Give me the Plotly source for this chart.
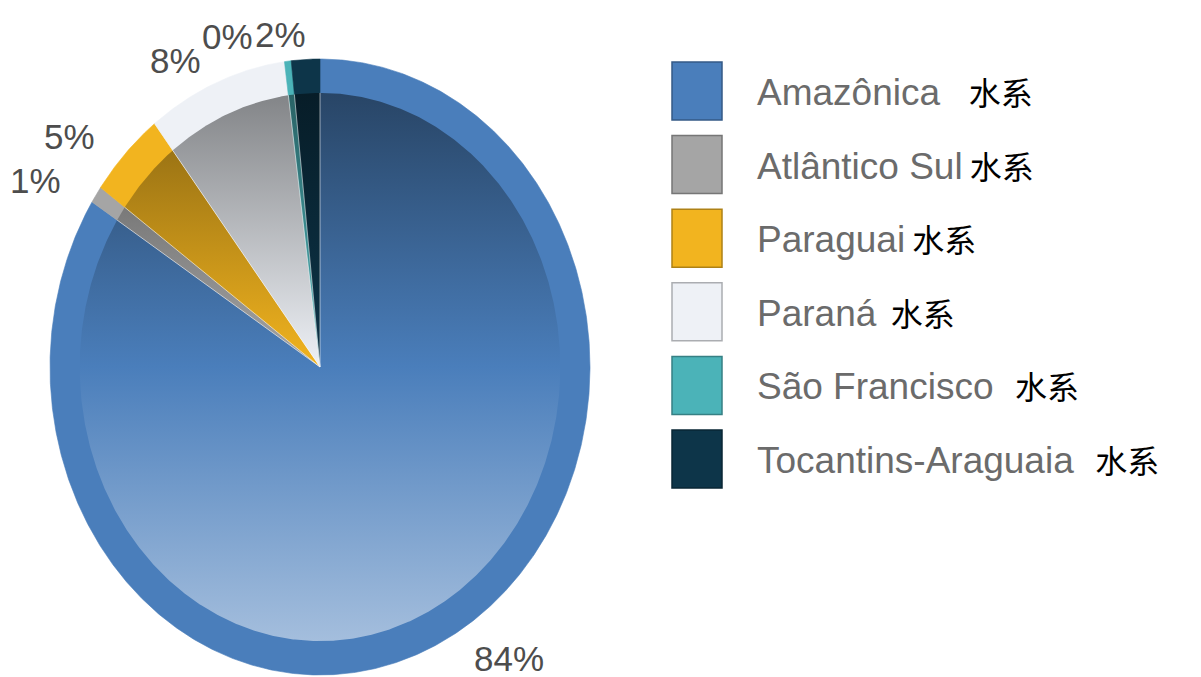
import numpy as np
import plotly.graph_objects as go

# Share of each Brazilian river basin (%), clockwise from 12 o'clock
basins = ["Amazônica", "Atlântico Sul", "Paraguai", "Paraná", "São Francisco", "Tocantins-Araguaia"]
shares = [84.0, 0.9, 4.6, 8.4, 0.4, 1.7]
colors = ["#4a7ebb", "#a5a5a5", "#f2b41f", "#eef1f6", "#4bb3b8", "#0d3549"]
suffix = ["    水系", " 水系", " 水系", "  水系", "   水系", "   水系"]

W, H = 1201, 677
CX, CY = 320, 310          # pie centre (y measured upward)
RX, RY = 270, 308          # outer radii of the (slightly tall) pie
INNER = 0.89               # inner bevelled face relative to outer rim
LABEL_SIZE = 35


def hex_rgb(c):
    c = c.lstrip("#")
    return [int(c[i:i + 2], 16) for i in (0, 2, 4)]


def shade(c, f):
    r, g, b = hex_rgb(c)
    return "rgb(%d,%d,%d)" % (r * f, g * f, b * f)


def tint(c, f):
    r, g, b = hex_rgb(c)
    return "rgb(%d,%d,%d)" % (r + (255 - r) * f, g + (255 - g) * f, b + (255 - b) * f)


def wedge(t0, t1, sx, sy):
    n = max(3, int((t1 - t0) / 0.4) + 2)
    th = np.radians(np.linspace(t0, t1, n))
    xs = np.concatenate([[CX], CX + sx * np.sin(th), [CX]])
    ys = np.concatenate([[CY], CY + sy * np.cos(th), [CY]])
    return xs, ys


fig = go.Figure()
total = sum(shares)
bounds = np.concatenate([[0], np.cumsum(shares)]) / total * 360.0

# outer rim: flat colour
for i, c in enumerate(colors):
    xs, ys = wedge(bounds[i], bounds[i + 1], RX, RY)
    fig.add_trace(go.Scatter(x=xs, y=ys, mode="lines", fill="toself",
                             fillcolor=c, line=dict(width=0.6, color=c),
                             hoverinfo="skip", showlegend=False))

# inner face: vertical gradient, dark at the top, light at the bottom
for i, c in enumerate(colors):
    xs, ys = wedge(bounds[i], bounds[i + 1], RX * INNER, RY * INNER)
    fig.add_trace(go.Scatter(
        x=xs, y=ys, mode="lines", fill="toself",
        fillgradient=dict(type="vertical",
                          colorscale=[[0, tint(c, 0.5)], [0.5, c], [1, shade(c, 0.55)]],
                          start=CY - RY * INNER, stop=CY + RY * INNER),
        line=dict(width=0, color=c),
        hoverinfo="skip", showlegend=False))

# thin light separators between the slices on the inner face
sep_x, sep_y = [], []
for b in bounds[:-1]:
    t = np.radians(b)
    sep_x += [CX, CX + RX * INNER * np.sin(t), None]
    sep_y += [CY, CY + RY * INNER * np.cos(t), None]
fig.add_trace(go.Scatter(x=sep_x, y=sep_y, mode="lines",
                         line=dict(width=1, color="rgba(255,255,255,0.55)"),
                         hoverinfo="skip", showlegend=False))

# percentage labels outside the pie
labels = []
for i, v in enumerate(shares):
    mid = np.radians((bounds[i] + bounds[i + 1]) / 2)
    sx, sy = np.sin(mid), np.cos(mid)
    text = "%d%%" % round(v / total * 100)
    width = LABEL_SIZE * (0.556 * (len(text) - 1) + 0.889)
    x = CX + RX * 1.17 * sx
    left = x if sx > 0 else x - width
    labels.append(dict(text=text, left=left, width=width, y=CY + RY * 1.08 * sy))

# push crowded labels on the left side apart (walk from 12 o'clock backwards)
for i in range(len(labels) - 2, -1, -1):
    a, b = labels[i], labels[i + 1]
    if abs(a["y"] - b["y"]) < LABEL_SIZE and a["left"] + a["width"] > b["left"]:
        a["left"] = b["left"] - a["width"] - 2

annotations = []
for lab in labels:
    annotations.append(dict(
        x=lab["left"], y=lab["y"], xref="x", yref="y",
        text=lab["text"], showarrow=False, xanchor="left", yanchor="middle",
        font=dict(family="Liberation Sans, Arial, sans-serif", size=LABEL_SIZE, color="#4d4d4d")))

# legend: swatches and names
LX0, LX1, LY0, STEP, BOX_H = 672, 722, 62, 73.6, 58
shapes = []
for i, (name, c) in enumerate(zip(basins, colors)):
    top = H - (LY0 + STEP * i)
    shapes.append(dict(type="rect", xref="x", yref="y", x0=LX0, x1=LX1,
                       y0=top - BOX_H, y1=top, fillcolor=c,
                       line=dict(color=shade(c, 0.72), width=1.5)))
    annotations.append(dict(
        x=755, y=top - BOX_H / 2, xref="x", yref="y", showarrow=False,
        xanchor="left", yanchor="middle",
        text=name + "<span style='font-family:Noto Sans CJK SC;font-size:32px;color:#000000'>"
        + suffix[i] + "</span>",
        font=dict(family="Liberation Sans, Arial, sans-serif", size=37, color="#6b6b6b")))

fig.update_layout(
    width=W, height=H, margin=dict(l=0, r=0, t=0, b=0),
    paper_bgcolor="white", plot_bgcolor="white",
    xaxis=dict(range=[0, W], visible=False, fixedrange=True),
    yaxis=dict(range=[0, H], visible=False, fixedrange=True),
    shapes=shapes, annotations=annotations, showlegend=False)

fig.write_html("out.html")
